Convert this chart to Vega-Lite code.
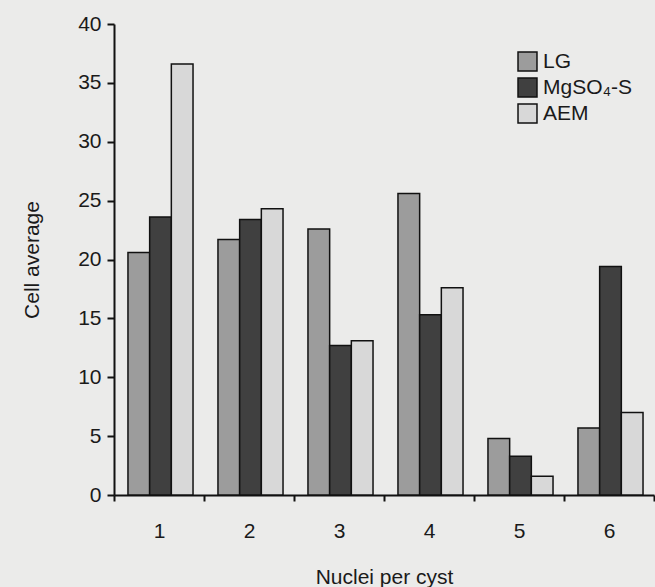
{
  "$schema": "https://vega.github.io/schema/vega-lite/v6.json",
  "width": 540,
  "height": 471,
  "autosize": {"type": "none"},
  "padding": {"left": 114, "top": 24, "right": 1, "bottom": 92},
  "background": "#ebebea",
  "config": {
    "font": "Liberation Sans",
    "view": {"stroke": null},
    "axis": {"labelColor": "#1a1a1a", "titleColor": "#1a1a1a", "domainColor": "#111", "tickColor": "#111", "domainWidth": 2, "tickWidth": 2, "grid": false, "labelFont": "Liberation Sans", "titleFont": "Liberation Sans", "titleFontWeight": "normal"}
  },
  "data": {
    "values": [
      {"n": "1", "s": "LG", "v": 20.6},
      {"n": "1", "s": "MgSO₄-S", "v": 23.6},
      {"n": "1", "s": "AEM", "v": 36.6},
      {"n": "2", "s": "LG", "v": 21.7},
      {"n": "2", "s": "MgSO₄-S", "v": 23.4},
      {"n": "2", "s": "AEM", "v": 24.3},
      {"n": "3", "s": "LG", "v": 22.6},
      {"n": "3", "s": "MgSO₄-S", "v": 12.7},
      {"n": "3", "s": "AEM", "v": 13.1},
      {"n": "4", "s": "LG", "v": 25.6},
      {"n": "4", "s": "MgSO₄-S", "v": 15.3},
      {"n": "4", "s": "AEM", "v": 17.6},
      {"n": "5", "s": "LG", "v": 4.8},
      {"n": "5", "s": "MgSO₄-S", "v": 3.3},
      {"n": "5", "s": "AEM", "v": 1.6},
      {"n": "6", "s": "LG", "v": 5.7},
      {"n": "6", "s": "MgSO₄-S", "v": 19.4},
      {"n": "6", "s": "AEM", "v": 7.0}
    ]
  },
  "mark": {"type": "bar", "stroke": "#111", "strokeWidth": 1.5},
  "encoding": {
    "x": {
      "field": "n", "type": "nominal", "sort": null,
      "scale": {"paddingInner": 0, "paddingOuter": 0},
      "axis": {"title": "Nuclei per cyst", "labelAngle": 0, "tickBand": "extent", "tickSize": 6, "labelFontSize": 21, "labelPadding": 19, "titleFontSize": 21, "titlePadding": 25}
    },
    "xOffset": {"field": "s", "type": "nominal", "sort": ["LG", "MgSO₄-S", "AEM"],
      "scale": {"paddingInner": 0, "paddingOuter": 0.575, "align": 0.56}},
    "y": {
      "field": "v", "type": "quantitative",
      "scale": {"domain": [0, 40], "nice": false},
      "axis": {"title": "Cell average", "values": [0, 5, 10, 15, 20, 25, 30, 35, 40], "tickSize": 7, "labelFontSize": 21, "labelPadding": 6, "titleFontSize": 21, "titlePadding": 35}
    },
    "fill": {
      "field": "s", "type": "nominal", "sort": ["LG", "MgSO₄-S", "AEM"],
      "scale": {"domain": ["LG", "MgSO₄-S", "AEM"], "range": ["#9c9c9c", "#404040", "#d8d8d8"]},
      "legend": {"title": null, "orient": "none", "legendX": 403, "legendY": 27, "symbolType": "square", "symbolSize": 360, "symbolStrokeColor": "#111", "symbolStrokeWidth": 1.5, "labelFontSize": 21, "labelColor": "#1a1a1a", "rowPadding": 1, "labelOffset": 5}
    }
  }
}
